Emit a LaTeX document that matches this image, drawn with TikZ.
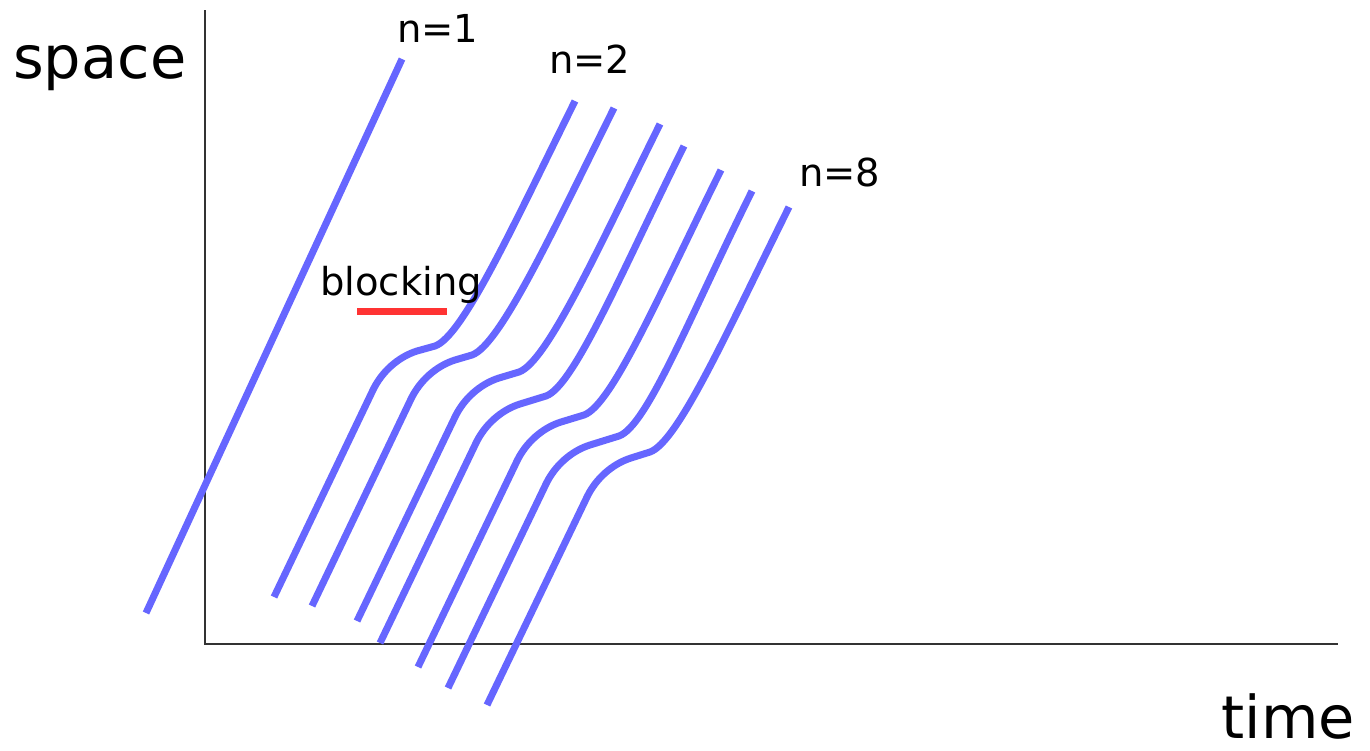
\documentclass[tikz,border=0pt]{standalone}
\usepackage{fontspec}
\setmainfont{DejaVu Sans}
\usetikzlibrary{calc}
\definecolor{wblue}{RGB}{102,102,255}
\definecolor{wred}{RGB}{255,51,51}
\definecolor{axisgray}{RGB}{51,51,51}
% #1 bottom, #2 lower corner, #3 end of plateau, #4 top
\newcommand\wl[4]{\draw[world] (#1) -- ($(#2)+(-14,29)$) .. controls +(8.6,-18) and +(-19,6) .. ($(#2)+(30,-10)$) -- (#3) .. controls +(28,-10) and +(-62,125) .. (#4);}
\begin{document}
\begin{tikzpicture}[x=1pt,y=-1pt,
  world/.style={draw=wblue,line width=7pt,line join=round},
  axis/.style={draw=axisgray,line width=1.3pt},
  big/.style={font=\fontsize{59}{70}\selectfont,inner sep=0pt},
  lab/.style={font=\fontsize{38.5}{46}\selectfont,inner sep=0pt,anchor=base west}]
\useasboundingbox (0,0) rectangle (1370,750);
% axes
\coordinate (top) at (205,10);
\coordinate (origin) at (205,644);
\coordinate (right) at (1338,644);
\draw[axis] (top) -- (origin) -- (right);
\node[big,anchor=base west] (space) at (13,78) {space};
\node[big,anchor=base east] (time) at (1355,738) {time};
% n=1
\coordinate (b1) at (146,613);
\coordinate (t1) at (402,59);
\draw[world] (b1) -- (t1);
% n=2..8
\wl{274,597}{387,361}{435,346}{575,101}
\wl{312,606}{425,370}{472,355}{614,108}
\wl{357,621}{469,388}{519,372}{660,124}
\wl{380,643}{490,414}{546,396}{684,146}
\wl{418,667}{531,432}{584,415}{721,170}
\wl{448,688}{560,455}{619,436}{752,191}
\wl{487,705}{601,468}{650,452}{789,207}
% labels
\node[lab] (n1) at (397,42) {n=1};
\node[lab] (n2) at (549,73) {n=2};
\node[lab] (n8) at (799,186) {n=8};
\node[lab] (blk) at (320,295) {blocking};
\coordinate (r1) at (357,311);
\coordinate (r2) at (447,311);
\draw[draw=wred,line width=7pt] (r1) -- (r2);
\end{tikzpicture}
\end{document}
